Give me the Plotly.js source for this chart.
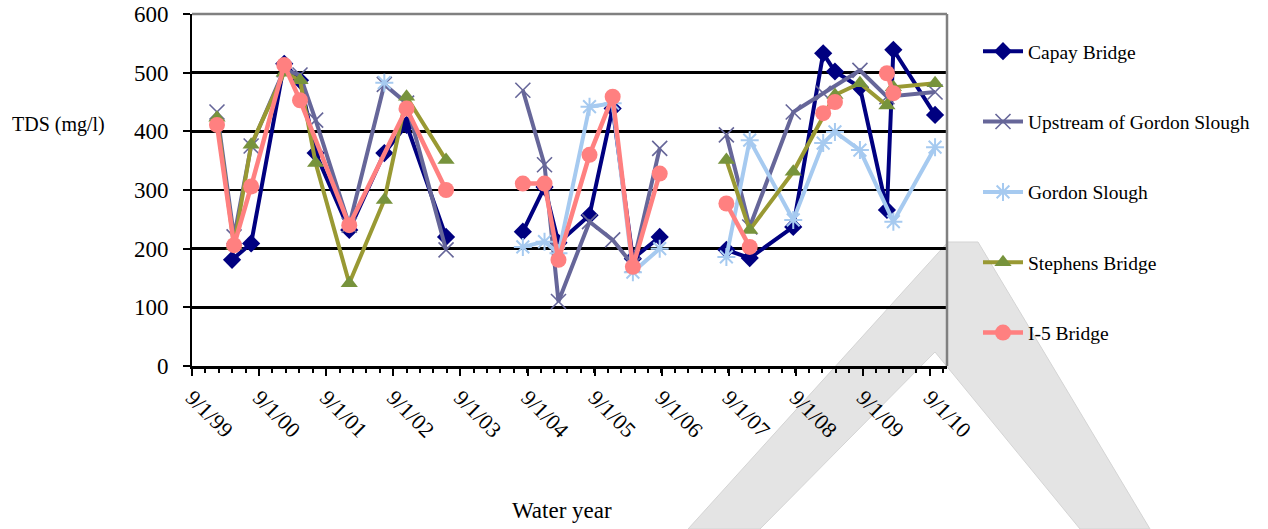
<!DOCTYPE html>
<html>
<head>
<meta charset="utf-8">
<script src="https://cdn.plot.ly/plotly-3.0.1.min.js"></script>
<style>
  html, body { margin: 0; padding: 0; background: #ffffff; }
  #chart { width: 1268px; height: 529px; }
</style>
</head>
<body>
<div id="chart"></div>
<script>
// TDS sampling results by station (mg/l); null entries break the line between sampling periods
const capayDates = ['2000-04-06','2000-07-19','2001-01-15','2001-04-11','2001-07-05','2002-01-04','2002-07-14','2002-11-12','2003-06-15','2004-01-01','2004-08-06','2004-12-02','2005-02-16','2005-08-04','2005-12-08','2006-03-28','2006-08-21','2007-01-01','2007-08-19','2007-12-24','2008-08-17','2009-01-27','2009-04-01','2009-08-15','2010-01-09','2010-02-13','2010-09-28'];
const capayTDS = [181,209,515,487,363,232,363,411,220,null,229,305,210,257,439,183,220,null,198,184,237,533,502,475,266,539,428];

const upstreamDates = ['2000-01-15','2000-04-17','2000-07-19','2001-01-15','2001-04-11','2001-07-05','2002-01-04','2002-07-14','2002-11-12','2003-06-15','2004-01-01','2004-08-06','2004-12-02','2005-02-16','2005-08-04','2005-12-08','2006-03-28','2006-08-21','2007-01-01','2007-08-19','2007-12-24','2008-08-17','2009-01-27','2009-08-15','2010-01-09','2010-09-28'];
const upstreamTDS = [433,220,375,505,496,419,240,480,448,198,null,470,343,110,246,215,172,371,null,394,237,433,465,504,459,467];

const gordonDates = ['2002-07-14','2004-01-01','2004-08-06','2004-12-02','2005-02-16','2005-08-04','2005-12-08','2006-03-28','2006-08-21','2007-01-01','2007-08-19','2007-12-24','2008-08-17','2009-01-27','2009-04-01','2009-08-15','2010-02-13','2010-09-28'];
const gordonTDS = [483,null,203,212,192,442,448,160,200,null,186,385,249,380,399,368,246,373];

const stephensDates = ['2000-01-15','2000-04-17','2000-07-19','2001-01-15','2001-04-11','2001-07-05','2002-01-04','2002-07-14','2002-11-12','2003-06-15','2005-01-01','2007-08-19','2007-12-24','2008-08-17','2009-04-01','2009-08-15','2010-01-09','2010-02-13','2010-09-28'];
const stephensTDS = [423,205,377,500,487,346,141,283,459,351,null,351,232,331,462,482,444,475,482];

const i5Dates = ['2000-01-15','2000-04-17','2000-07-19','2001-01-15','2001-04-11','2002-01-04','2002-11-12','2003-06-15','2004-01-01','2004-08-06','2004-12-02','2005-02-16','2005-08-04','2005-12-08','2006-03-28','2006-08-21','2007-01-01','2007-08-19','2007-12-24','2008-06-01','2009-01-27','2009-04-01','2009-10-01','2010-01-09','2010-02-13'];
const i5TDS = [411,206,306,513,453,240,439,300,null,311,311,181,360,459,169,328,null,277,203,null,431,450,null,499,465];

const stationNames = ['Capay Bridge','Upstream of Gordon Slough','Gordon Slough','Stephens Bridge','I-5 Bridge'];
const yearTickLabels = ['9/1/99','9/1/00','9/1/01','9/1/02','9/1/03','9/1/04','9/1/05','9/1/06','9/1/07','9/1/08','9/1/09','9/1/10'];
const yearTickDates = ['1999-09-01','2000-09-01','2001-09-01','2002-09-01','2003-09-01','2004-09-01','2005-09-01','2006-09-01','2007-09-01','2008-09-01','2009-09-01','2010-09-01'];

const SERIF = "'Liberation Serif', 'Times New Roman', serif";

function series(name, x, y, lineColor, lineWidth, marker, group) {
  return {
    type: 'scatter', mode: 'lines+markers', name: name, x: x, y: y,
    line: { color: lineColor, width: lineWidth },
    marker: marker, legendgroup: group, connectgaps: false,
    hoverinfo: 'x+y+name'
  };
}

const traces = [
  series(stationNames[0], capayDates, capayTDS, '#000080', 4,
    { symbol: 'diamond', size: 14, color: '#000080' }, 'g1'),
  series(stationNames[1], upstreamDates, upstreamTDS, '#666699', 4,
    { symbol: 'x-thin', size: 15, color: '#666699', line: { color: '#666699', width: 1.6 } }, 'g2'),
  series(stationNames[2], gordonDates, gordonTDS, '#A6CAF0', 4,
    { symbol: 'asterisk', size: 15, color: '#A6CAF0', line: { color: '#A6CAF0', width: 2 } }, 'g3'),
  series(stationNames[3], stephensDates, stephensTDS, '#999933', 4,
    { symbol: 'triangle-up', size: 15, color: '#77933C' }, 'g4'),
  series(stationNames[4], i5Dates, i5TDS, '#FF8080', 4.5,
    { symbol: 'circle', size: 16, color: '#FF8080' }, 'g5')
];

// plot area in pixels: x 192..947, y 14..366
const L = 192, R = 947, T = 14, B = 366;
const px = v => (v - L) / (R - L);
const py = v => (B - v) / (B - T);
function pathFrom(points) {
  return 'M ' + points.map(p => px(p[0]).toFixed(4) + ',' + py(p[1]).toFixed(4)).join(' L ') + ' Z';
}

// faint chevron-shaped document mark in the lower right
const markOuter = [[688,529],[948,242],[978,242],[1150,529],[1080,529],[935,352],[760,529]];

const layout = {
  width: 1268, height: 529,
  margin: { l: L, r: 1268 - R, t: T, b: 529 - B, pad: 0 },
  paper_bgcolor: '#ffffff',
  plot_bgcolor: 'rgba(0,0,0,0)',
  font: { family: SERIF, color: '#000000', size: 18 },
  showlegend: true,
  legend: {
    x: px(978), y: py(32), xanchor: 'left', yanchor: 'top',
    font: { family: SERIF, size: 19.5, color: '#000000' },
    tracegroupgap: 42, itemwidth: 40, bgcolor: 'rgba(0,0,0,0)'
  },
  xaxis: {
    type: 'date',
    range: ['1999-09-01', '2010-12-02'],
    tickmode: 'array', tickvals: yearTickDates, ticktext: yearTickLabels,
    tickangle: 45,
    tickfont: { family: SERIF, size: 22, color: '#000000' },
    ticks: 'outside', ticklen: 7, tickwidth: 2, tickcolor: '#000000',
    minor: { ticks: 'outside', ticklen: 4, tickwidth: 2, tickcolor: '#000000',
             tick0: '1999-09-01', dtick: 73 * 86400000, showgrid: false },
    showline: true, linecolor: '#000000', linewidth: 3,
    showgrid: false, zeroline: false, fixedrange: true
  },
  yaxis: {
    range: [0, 600], dtick: 100, tick0: 0,
    tickfont: { family: SERIF, size: 23, color: '#000000' },
    ticks: 'outside', ticklen: 7, tickwidth: 2, tickcolor: '#000000',
    showline: true, linecolor: '#000000', linewidth: 2,
    showgrid: true, gridcolor: '#000000', gridwidth: 2.5,
    zeroline: false, fixedrange: true, ticklabelstandoff: 10
  },
  shapes: [
    { type: 'path', xref: 'paper', yref: 'paper', layer: 'below',
      path: pathFrom(markOuter), fillcolor: '#e4e4e4', line: { color: '#d4d4d4', width: 1 } },
    { type: 'line', xref: 'paper', yref: 'paper', x0: 0, x1: 1, y0: 1, y1: 1,
      line: { color: '#808080', width: 2.5 }, layer: 'above' },
    { type: 'line', xref: 'paper', yref: 'paper', x0: 1, x1: 1, y0: 0, y1: 1,
      line: { color: '#808080', width: 2.5 }, layer: 'above' }
  ],
  annotations: [
    { text: 'TDS (mg/l)', xref: 'paper', yref: 'paper', x: px(58), y: py(125),
      xanchor: 'center', yanchor: 'middle', showarrow: false,
      font: { family: SERIF, size: 20, color: '#000000' } },
    { text: 'Water year', xref: 'paper', yref: 'paper', x: px(562), y: py(510),
      xanchor: 'center', yanchor: 'middle', showarrow: false,
      font: { family: SERIF, size: 23, color: '#000000' } }
  ]
};

Plotly.newPlot('chart', traces, layout, { displayModeBar: false, staticPlot: true });
</script>
</body>
</html>
